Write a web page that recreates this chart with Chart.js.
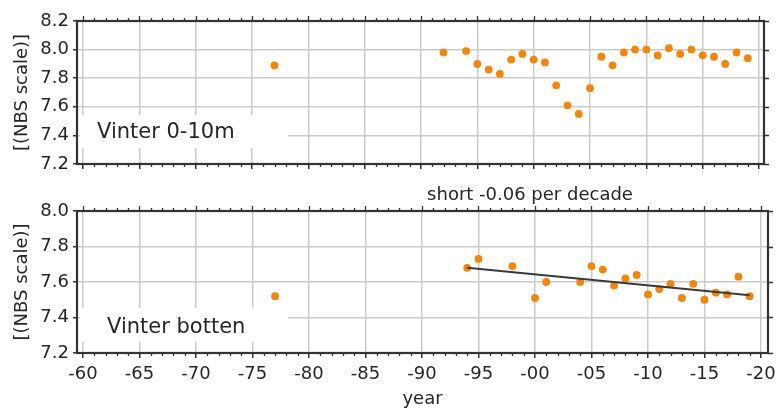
<!DOCTYPE html>
<html>
<head>
<meta charset="utf-8">
<script src="https://cdn.jsdelivr.net/npm/chart.js@4.4.0/dist/chart.umd.min.js"></script>
<style>
  html, body { margin: 0; padding: 0; background: #fff; }
  #wrap { position: relative; width: 776px; height: 408px; overflow: hidden; }
  canvas { position: absolute; left: 0; }
</style>
</head>
<body>
<div id="wrap">
  <canvas id="surf" width="776" height="180" style="top:0"></canvas>
  <canvas id="bott" width="776" height="228" style="top:180px"></canvas>
</div>
<script>
// pH, vinter 0-10m
const surfYears = [1977, 1992, 1994, 1995, 1996, 1997, 1998, 1999, 2000, 2001, 2002, 2003, 2004,
  2005, 2006, 2007, 2008, 2009, 2010, 2011, 2012, 2013, 2014, 2015, 2016, 2017, 2018, 2019];
const surfPH = [7.89, 7.98, 7.99, 7.90, 7.86, 7.83, 7.93, 7.97, 7.93, 7.91, 7.75, 7.61, 7.55,
  7.73, 7.95, 7.89, 7.98, 8.00, 8.00, 7.96, 8.01, 7.97, 8.00, 7.96, 7.95, 7.90, 7.98, 7.94];

// pH, vinter botten
const bottYears = [1977, 1994, 1995, 1998, 2000, 2001, 2004, 2005, 2006, 2007, 2008, 2009,
  2010, 2011, 2012, 2013, 2014, 2015, 2016, 2017, 2018, 2019];
const bottPH = [7.52, 7.68, 7.73, 7.69, 7.51, 7.60, 7.60, 7.69, 7.67, 7.58, 7.62, 7.64,
  7.53, 7.56, 7.59, 7.51, 7.59, 7.50, 7.54, 7.53, 7.63, 7.52];

// trend line (short period)
const trendYears = [1994, 2019];
const trendPH = [7.68, 7.525];

const xTickYears = [1960, 1965, 1970, 1975, 1980, 1985, 1990, 1995, 2000, 2005, 2010, 2015, 2020];
const xTickLabels = ['-60', '-65', '-70', '-75', '-80', '-85', '-90', '-95', '-00', '-05', '-10', '-15', '-20'];
const yTicksSurf = [7.2, 7.4, 7.6, 7.8, 8.0, 8.2];
const yTicksBott = [7.2, 7.4, 7.6, 7.8, 8.0];

const ORANGE = 'rgb(242,134,10)';
const SPINE = '#333';
const GRID = '#cbcbcb';
const TEXT = '#262626';
const FONT = "'DejaVu Sans', sans-serif";

Chart.defaults.font.family = FONT;
Chart.defaults.color = TEXT;

const toPts = (xs, ys) => xs.map((x, i) => ({x: x, y: ys[i]}));

// frame: spines on all four sides, yearly minor ticks, right-side y ticks
const framePlugin = {
  id: 'frame',
  afterDraw(chart) {
    const {ctx, chartArea: a, scales: {x, y}} = chart;
    ctx.save();
    ctx.strokeStyle = SPINE;
    ctx.lineWidth = 1.3;
    ctx.beginPath();
    for (let yr = 1960; yr <= 2020; yr++) {
      const px = Math.round(x.getPixelForValue(yr)) + 0.5;
      const major = yr % 5 === 0;
      ctx.moveTo(px, a.top);
      ctx.lineTo(px, a.top - (major ? 5 : 3));
      if (!major) {
        ctx.moveTo(px, a.bottom);
        ctx.lineTo(px, a.bottom + 3);
      }
    }
    y.ticks.forEach(t => {
      const py = Math.round(y.getPixelForValue(t.value)) + 0.5;
      ctx.moveTo(a.right, py);
      ctx.lineTo(a.right + 5, py);
    });
    ctx.stroke();
    ctx.lineWidth = 2.2;
    ctx.strokeRect(a.left, a.top, a.right - a.left, a.bottom - a.top);
    ctx.restore();
  }
};

// white box with the panel name, like a legend
function boxLabel(text, box, tx, ty) {
  return {
    id: 'boxLabel',
    beforeDatasetsDraw(chart) {
      const ctx = chart.ctx;
      ctx.save();
      ctx.fillStyle = '#fff';
      ctx.fillRect(box[0], box[1], box[2], box[3]);
      ctx.fillStyle = TEXT;
      ctx.font = '21px ' + FONT;
      ctx.textAlign = 'left';
      ctx.textBaseline = 'middle';
      ctx.fillText(text, tx, ty);
      ctx.restore();
    }
  };
}

const noteText = {
  id: 'noteText',
  afterDraw(chart) {
    const ctx = chart.ctx;
    ctx.save();
    ctx.fillStyle = TEXT;
    ctx.font = '18px ' + FONT;
    ctx.textAlign = 'center';
    ctx.textBaseline = 'middle';
    ctx.fillText('short -0.06 per decade', 530, 15);
    ctx.restore();
  }
};

function xScale(max, height, showLabels) {
  return {
    type: 'linear',
    min: 1959.47,
    max: max,
    afterBuildTicks: s => { s.ticks = xTickYears.map(v => ({value: v})); },
    afterFit: s => { s.height = height; s.paddingLeft = 0; s.paddingRight = 0; },
    grid: { color: GRID, lineWidth: 1.5, tickColor: SPINE, tickWidth: 1.5, tickLength: 5 },
    border: { display: false },
    ticks: {
      display: showLabels,
      padding: 6,
      maxRotation: 0,
      autoSkip: false,
      font: { size: 18 },
      callback: v => xTickLabels[xTickYears.indexOf(v)]
    },
    title: {
      display: showLabels,
      text: 'year',
      font: { size: 18, lineHeight: 1 },
      padding: { top: 0, bottom: 0 }
    }
  };
}

function yScale(min, max, tickVals) {
  return {
    min: min,
    max: max,
    afterBuildTicks: s => { s.ticks = tickVals.map(v => ({value: v})); },
    afterFit: s => { s.width = 77; s.paddingTop = 0; s.paddingBottom = 0; },
    grid: { color: GRID, lineWidth: 1.5, tickColor: SPINE, tickWidth: 1.5, tickLength: 4 },
    border: { display: false },
    ticks: {
      padding: 4,
      font: { size: 18 },
      callback: v => v.toFixed(1)
    },
    title: {
      display: true,
      text: '[(NBS scale)]',
      font: { size: 18, lineHeight: 1 },
      padding: { top: 13, bottom: 0 }
    }
  };
}

const pointStyle = {
  showLine: false,
  pointRadius: 3.9,
  pointHoverRadius: 3.9,
  pointBackgroundColor: ORANGE,
  pointBorderWidth: 0,
  backgroundColor: ORANGE
};

new Chart(document.getElementById('surf'), {
  type: 'scatter',
  data: {
    datasets: [
      Object.assign({ label: 'Vinter 0-10m', data: toPts(surfYears, surfPH) }, pointStyle)
    ]
  },
  options: {
    responsive: false,
    animation: false,
    devicePixelRatio: 1,
    layout: { padding: { top: 21, right: 12, left: 0, bottom: 0 } },
    plugins: { legend: { display: false }, tooltip: { enabled: false } },
    scales: {
      x: xScale(2020.44, 16, false),
      y: yScale(7.2, 8.2, yTicksSurf)
    }
  },
  plugins: [framePlugin, boxLabel('Vinter 0-10m', [80, 115, 208, 33], 97, 133)]
});

new Chart(document.getElementById('bott'), {
  type: 'scatter',
  data: {
    datasets: [
      {
        label: 'trend',
        data: toPts(trendYears, trendPH),
        showLine: true,
        borderColor: '#3a3a3a',
        borderWidth: 2,
        pointRadius: 0,
        fill: false
      },
      Object.assign({ label: 'Vinter botten', data: toPts(bottYears, bottPH) }, pointStyle)
    ]
  },
  options: {
    responsive: false,
    animation: false,
    devicePixelRatio: 1,
    layout: { padding: { top: 31, right: 8, left: 0, bottom: 0 } },
    plugins: { legend: { display: false }, tooltip: { enabled: false } },
    scales: {
      x: xScale(2020.62, 55, true),
      y: yScale(7.2, 8.0, yTicksBott)
    }
  },
  plugins: [framePlugin, noteText, boxLabel('Vinter botten', [80, 128, 208, 34], 107, 148)]
});
</script>
</body>
</html>
